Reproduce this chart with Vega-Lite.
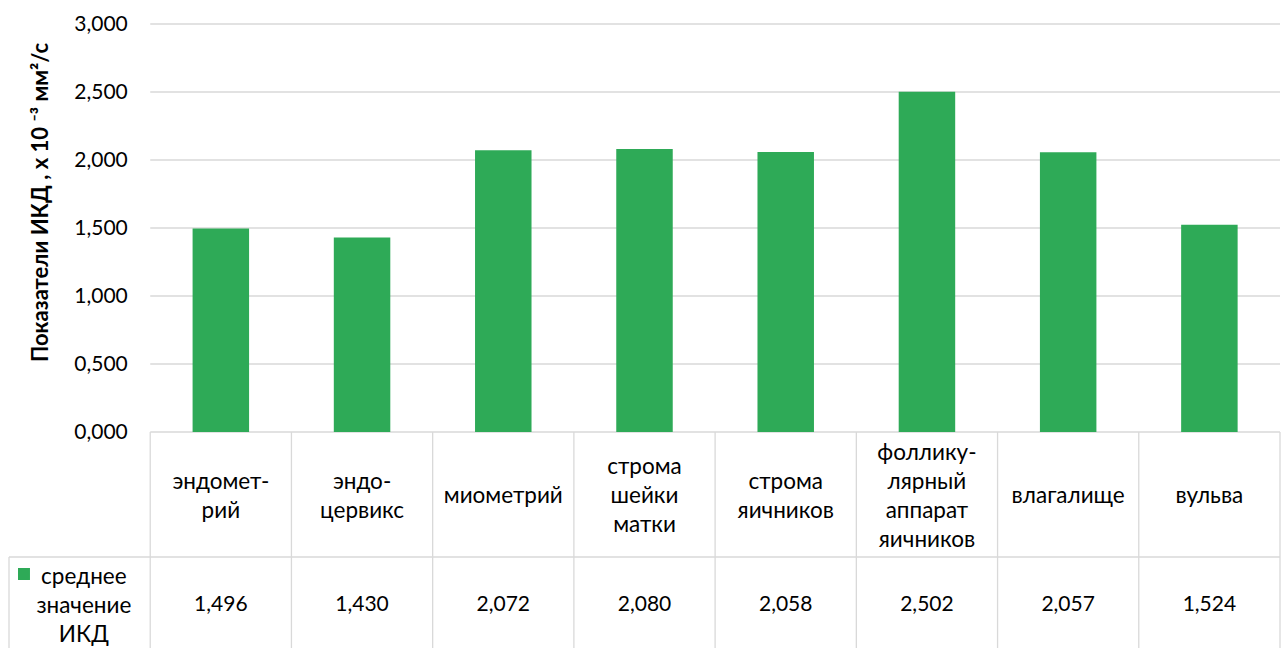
{
  "$schema": "https://vega.github.io/schema/vega-lite/v6.json",
  "autosize": {"type": "none"},
  "padding": {"left": 9, "top": 24, "right": 5, "bottom": 0},
  "width": 1271,
  "height": 624,
  "config": {
    "view": {"stroke": null},
    "font": "Lato",
    "locale": {"number": {"decimal": ",", "thousands": "\u00a0", "grouping": [3], "currency": ["", " ₽"]}},
    "text": {"font": "Lato", "fontSize": 21, "color": "#000000"}
  },
  "data": {
    "values": [
      {"organ": "эндомет-\nрий", "ikd": 1.496},
      {"organ": "эндо-\nцервикс", "ikd": 1.430},
      {"organ": "миометрий", "ikd": 2.072},
      {"organ": "строма\nшейки\nматки", "ikd": 2.080},
      {"organ": "строма\nяичников", "ikd": 2.058},
      {"organ": "фоллику-\nлярный\nаппарат\nяичников", "ikd": 2.502},
      {"organ": "влагалище", "ikd": 2.057},
      {"organ": "вульва", "ikd": 1.524}
    ]
  },
  "encoding": {
    "x": {
      "field": "organ",
      "type": "nominal",
      "sort": null,
      "axis": null,
      "scale": {
        "domain": ["среднее значение ИКД", "эндомет-\nрий", "эндо-\nцервикс", "миометрий", "строма\nшейки\nматки", "строма\nяичников", "фоллику-\nлярный\nаппарат\nяичников", "влагалище", "вульва"],
        "paddingInner": 0,
        "paddingOuter": 0
      }
    }
  },
  "layer": [
    {
      "description": "horizontal gridlines over the category columns",
      "data": {"values": [{"g": 0}, {"g": 0.5}, {"g": 1}, {"g": 1.5}, {"g": 2}, {"g": 2.5}, {"g": 3}]},
      "mark": {"type": "rule", "color": "#d9d9d9", "strokeWidth": 1.3},
      "encoding": {
        "x": {"datum": "эндомет-\nрий", "bandPosition": 0},
        "x2": {"datum": "вульва", "bandPosition": 1},
        "y": {
          "field": "g",
          "type": "quantitative",
          "scale": {"domain": [-1.5882, 3], "nice": false, "zero": false},
          "axis": {
            "orient": "left",
            "offset": -141.25,
            "values": [0, 0.5, 1, 1.5, 2, 2.5, 3],
            "format": ".3f",
            "grid": false,
            "domain": false,
            "ticks": false,
            "labelPadding": 23,
            "labelFont": "Lato",
            "labelFontSize": 21,
            "labelColor": "#000000",
            "title": "Показатели ИКД , х 10 ⁻³ мм²/с",
            "titleFont": "Lato",
            "titleFontSize": 22,
            "titleFontWeight": "bold",
            "titleColor": "#000000",
            "titleBaseline": "middle",
            "titleX": -110,
            "titleY": 178
          }
        }
      }
    },
    {
      "mark": {"type": "bar", "color": "#2eaa57", "width": {"band": 0.4}},
      "encoding": {
        "y": {"field": "ikd", "type": "quantitative"},
        "y2": {"datum": 0}
      }
    },
    {
      "description": "vertical borders of the data table",
      "mark": {"type": "rule", "color": "#d9d9d9", "strokeWidth": 1.3},
      "encoding": {
        "x": {"field": "organ", "type": "nominal", "bandPosition": 0},
        "y": {"datum": 0},
        "y2": {"datum": -1.5882}
      }
    },
    {
      "data": {"values": [{}]},
      "mark": {"type": "rule", "color": "#d9d9d9", "strokeWidth": 1.3},
      "encoding": {
        "x": {"datum": "вульва", "bandPosition": 1},
        "y": {"datum": 0},
        "y2": {"datum": -1.5882}
      }
    },
    {
      "data": {"values": [{}]},
      "mark": {"type": "rule", "color": "#d9d9d9", "strokeWidth": 1.3},
      "encoding": {
        "x": {"datum": "среднее значение ИКД", "bandPosition": 0},
        "y": {"datum": -0.919},
        "y2": {"datum": -1.5882}
      }
    },
    {
      "data": {"values": [{}]},
      "mark": {"type": "rule", "color": "#d9d9d9", "strokeWidth": 1.3},
      "encoding": {
        "x": {"datum": "среднее значение ИКД", "bandPosition": 0},
        "x2": {"datum": "вульва", "bandPosition": 1},
        "y": {"datum": -0.919}
      }
    },
    {
      "description": "category names in the table header row, each block centred in its cell",
      "mark": {
        "type": "text",
        "fontSize": 22.5,
        "lineBreak": "\n",
        "lineHeight": 29,
        "baseline": "middle",
        "align": "center",
        "dy": {"expr": "-14.5 * (length(split(datum.organ, '\\n')) - 1)"}
      },
      "encoding": {
        "text": {"field": "organ"},
        "y": {"datum": -0.4706}
      }
    },
    {
      "description": "values in the table data row",
      "mark": {"type": "text", "baseline": "middle", "align": "center"},
      "encoding": {
        "text": {"field": "ikd", "type": "quantitative", "format": ".3f"},
        "y": {"datum": -1.272}
      }
    },
    {
      "data": {"values": [{}]},
      "mark": {"type": "square", "color": "#2eaa57", "opacity": 1, "filled": true, "size": 144},
      "encoding": {
        "x": {"datum": "среднее значение ИКД", "bandPosition": 0.106},
        "y": {"datum": -1.044}
      }
    },
    {
      "data": {"values": [{}]},
      "mark": {"type": "text", "fontSize": 22.5, "lineBreak": "\n", "lineHeight": 29, "baseline": "middle", "align": "center"},
      "encoding": {
        "x": {"datum": "среднее значение ИКД", "bandPosition": 0.53},
        "y": {"datum": -1.066},
        "text": {"value": "среднее\nзначение\nИКД"}
      }
    }
  ]
}
